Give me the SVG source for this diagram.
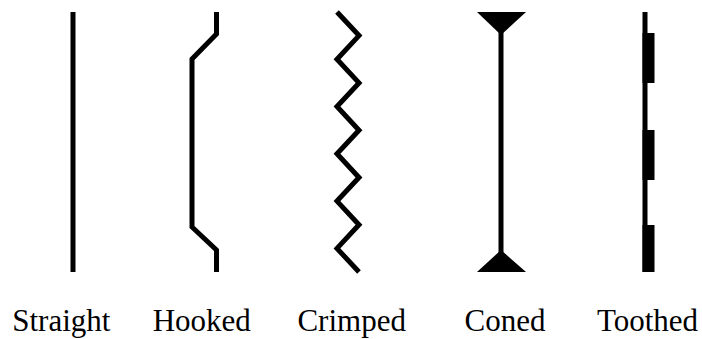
<svg xmlns="http://www.w3.org/2000/svg" width="702" height="339" viewBox="0 0 702 339">
<style>
.w{fill:none;stroke:#000;stroke-width:5;stroke-linejoin:miter;stroke-linecap:butt}
.f{fill:#000;stroke:none}
.t{font-family:"Liberation Serif","Times New Roman",serif;font-size:31px;fill:#000;text-anchor:middle}
</style>
<rect width="702" height="339" fill="#fff"/>
<g id="straight">
<line class="w" x1="73" y1="12" x2="73" y2="272"/>
<text class="t" x="61.3" y="331">Straight</text>
</g>
<g id="hooked">
<polyline class="w" points="216.5,12 216.5,34 192,59 192,227 216.5,250 216.5,272"/>
<text class="t" x="201.8" y="331">Hooked</text>
</g>
<g id="crimped">
<polyline class="w" points="337,12 359,35.6 337,59.3 359,82.9 337,106.5 359,130.2 337,153.8 359,177.5 337,201.1 359,224.7 337,248.4 359,272"/>
<text class="t" x="351.7" y="331">Crimped</text>
</g>
<g id="coned">
<line class="w" x1="501" y1="30" x2="501" y2="254"/>
<polygon class="f" points="477,12 526,12 501,35"/>
<polygon class="f" points="501,250 526,272 477,272"/>
<text class="t" x="505" y="331">Coned</text>
</g>
<g id="toothed">
<rect class="f" x="642.5" y="12" width="5" height="260"/>
<rect class="f" x="642.5" y="33" width="12" height="50"/>
<rect class="f" x="642.5" y="130" width="12" height="50"/>
<rect class="f" x="642.5" y="225" width="12" height="47"/>
<text class="t" x="647.5" y="331">Toothed</text>
</g>
</svg>
